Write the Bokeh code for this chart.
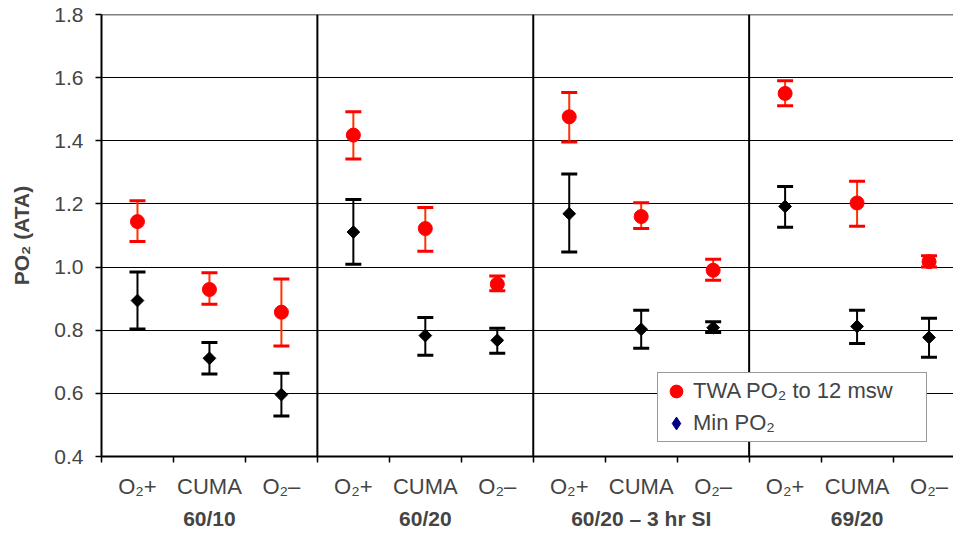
import math
from bokeh.plotting import figure
from bokeh.models import (ColumnDataSource, Whisker, TeeHead, FixedTicker, LinearAxis,
                          Span, Legend, LegendItem, Range1d)
from bokeh.embed import file_html
from bokeh.resources import INLINE

# ---- data ----
categories = ["O₂+", "CUMA", "O₂–"] * 4
groups = ["60/10", "60/20", "60/20 – 3 hr SI", "69/20"]

twa_mean = [1.144, 0.929, 0.857, 1.418, 1.122, 0.946, 1.476, 1.160, 0.990, 1.550, 1.203, 1.017]
twa_upper = [1.210, 0.982, 0.962, 1.492, 1.189, 0.972, 1.553, 1.204, 1.025, 1.590, 1.272, 1.036]
twa_lower = [1.081, 0.882, 0.750, 1.342, 1.050, 0.925, 1.396, 1.122, 0.958, 1.511, 1.129, 1.000]

min_mean = [0.894, 0.711, 0.596, 1.111, 0.783, 0.768, 1.169, 0.803, 0.808, 1.192, 0.812, 0.777]
min_upper = [0.984, 0.761, 0.664, 1.214, 0.840, 0.806, 1.295, 0.863, 0.827, 1.255, 0.863, 0.838]
min_lower = [0.804, 0.661, 0.528, 1.009, 0.721, 0.727, 1.048, 0.743, 0.793, 1.126, 0.758, 0.714]

y_ticks = [0.4, 0.6, 0.8, 1.0, 1.2, 1.4, 1.6, 1.8]

# ---- derived positions ----
n = len(categories)
xc = [i + 0.5 for i in range(n)]
bounds = list(range(n + 1))
group_centers = [3 * g + 1.5 for g in range(len(groups))]

FONT = "Liberation Sans"

p = figure(width=953, height=538,
           x_range=Range1d(0, 11.84), y_range=Range1d(y_ticks[0], y_ticks[-1]),
           x_axis_type=None, output_backend="svg", toolbar_location=None,
           min_border_left=101, min_border_top=14, min_border_right=0, min_border_bottom=82,
           background_fill_color="white", border_fill_color="white")
p.outline_line_color = None

# y axis
ya = p.yaxis[0]
ya.ticker = FixedTicker(ticks=y_ticks, minor_ticks=[])
ya.major_label_overrides = {t: f"{t:.1f}" for t in y_ticks}
ya.axis_label = "PO₂ (ATA)"
ya.axis_label_text_font = FONT
ya.axis_label_text_font_style = "bold"
ya.axis_label_text_font_size = "21px"
ya.axis_label_standoff = 18
ya.major_label_text_font = FONT
ya.major_label_text_font_size = "21px"
ya.major_label_standoff = 12
ya.major_tick_out = 6
ya.major_tick_in = 0
ya.major_tick_line_width = 1.5
ya.axis_line_width = 2
ya.axis_line_color = "black"
ya.major_tick_line_color = "black"

p.ygrid.ticker = FixedTicker(ticks=y_ticks)
p.ygrid.grid_line_color = "black"
p.ygrid.grid_line_width = 1
p.xgrid.visible = False

# x axis: categories
xa = LinearAxis(ticker=FixedTicker(ticks=xc, minor_ticks=bounds))
xa.major_label_overrides = {x: c for x, c in zip(xc, categories)}
xa.major_label_text_font = FONT
xa.major_label_text_font_size = "22px"
xa.major_label_standoff = 11
xa.major_tick_line_color = None
xa.major_tick_out = 0
xa.major_tick_in = 0
xa.minor_tick_line_color = "black"
xa.minor_tick_line_width = 1.5
xa.minor_tick_out = 6
xa.minor_tick_in = 0
xa.axis_line_color = "black"
xa.axis_line_width = 2
p.add_layout(xa, "below")

# x axis: group names
ga = LinearAxis(ticker=FixedTicker(ticks=group_centers, minor_ticks=[]))
ga.major_label_overrides = {x: g for x, g in zip(group_centers, groups)}
ga.major_label_text_font = FONT
ga.major_label_text_font_size = "21px"
ga.major_label_text_font_style = "bold"
ga.major_label_standoff = 5
ga.axis_line_color = None
ga.major_tick_line_color = None
ga.minor_tick_line_color = None
ga.major_tick_out = 0
ga.major_tick_in = 0
p.add_layout(ga, "below")

# group separators
for b in [3, 6, 9]:
    p.add_layout(Span(location=b, dimension="height", line_color="black", line_width=2))
p.add_layout(Span(location=y_ticks[-1], dimension="width", line_color="black", line_width=1.5))

src = ColumnDataSource(dict(x=xc, tm=twa_mean, tu=twa_upper, tl=twa_lower,
                            mm=min_mean, mu=min_upper, ml=min_lower))

# TWA error bars and markers
p.add_layout(Whisker(source=src, base="x", upper="tu", lower="tl", dimension="height",
                     line_color="#FF3300", line_width=2,
                     upper_head=TeeHead(size=16, line_color="red", line_width=3),
                     lower_head=TeeHead(size=16, line_color="red", line_width=3)))
r_twa = p.scatter("x", "tm", source=src, marker="circle", size=14,
                  fill_color="red", line_color="red")

# Min error bars and markers (square diamonds)
p.add_layout(Whisker(source=src, base="x", upper="mu", lower="ml", dimension="height",
                     line_color="black", line_width=2,
                     upper_head=TeeHead(size=16, line_color="black", line_width=3),
                     lower_head=TeeHead(size=16, line_color="black", line_width=3)))
p.scatter("x", "mm", source=src, marker="square", angle=math.pi / 4, size=9,
          fill_color="black", line_color="black")

# legend proxy for Min PO2 (navy diamond in key, nothing drawn on the plot)
nan = float("nan")
r_min_key = p.scatter(x=[nan], y=[nan], marker="diamond", size=14,
                      fill_color="#000080", line_color="#000080")

legend = Legend(items=[LegendItem(label="TWA PO₂ to 12 msw", renderers=[r_twa], index=0),
                       LegendItem(label="Min PO₂", renderers=[r_min_key], index=0)],
                location=(556, 14))
legend.label_text_font = FONT
legend.label_text_font_size = "22px"
legend.border_line_color = "#333333"
legend.border_line_width = 1.2
legend.background_fill_color = "white"
legend.background_fill_alpha = 1
legend.padding = 2
legend.spacing = 0
legend.margin = 0
legend.glyph_width = 32
legend.glyph_height = 32
legend.label_standoff = 1
legend.label_height = 32
legend.label_width = 231
p.add_layout(legend)

open("out.html", "w").write(file_html(p, INLINE))
